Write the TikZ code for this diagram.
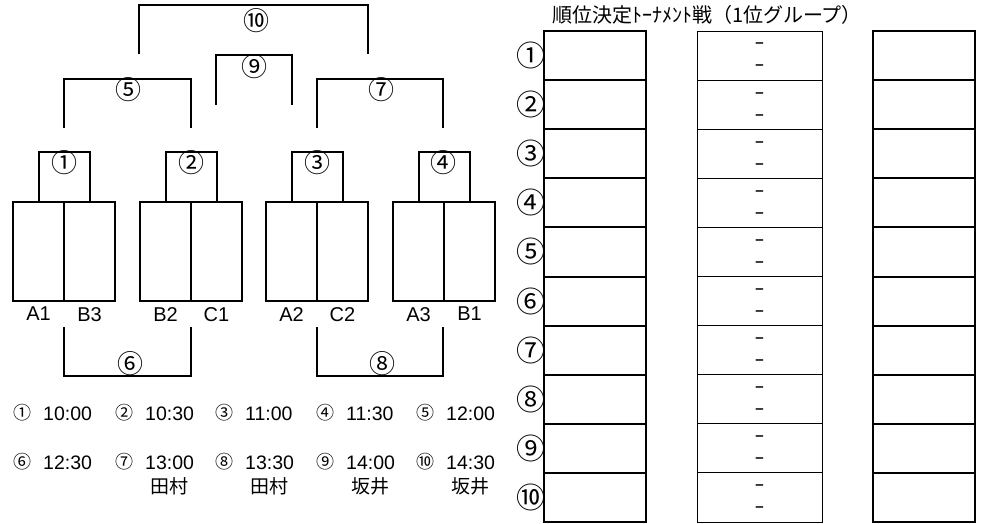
\documentclass[tikz,border=0pt]{standalone}
\usepackage{fontspec}
\setmainfont{Liberation Sans}
\newfontfamily\jp{Noto Sans CJK JP}
\usetikzlibrary{positioning}
\newcommand{\fsz}[1]{\fontsize{#1}{#1}\selectfont}
\begin{document}
\begin{tikzpicture}
      [x=1pt,y=-1pt,every node/.style={inner sep=0pt},
       bracket/.style={line width=2pt},
       cell/.style={draw, line width=2pt, minimum width=51pt, minimum height=99pt},
       box/.style={draw, line width=2pt, minimum width=102pt, minimum height=49.1pt},
       thinbox/.style={draw, line width=0.9pt, minimum width=125pt, minimum height=49.1pt},
       num/.style={font=\jp\fsz{26}},
       team/.style={font=\fsz{20}},
       dashmark/.style={font=\bfseries\fsz{15}}]
    \useasboundingbox (0,0) rectangle (984,524);

    \foreach \n/\x in {A1/38.5, B3/89.5, B2/165.5, C1/216.5, A2/291.5, C2/342.5, A3/418.5, B1/469.5} {
      \node[cell] (t\n) at (\x,251.5) {};
      \node[team, below=5pt of t\n] (l\n) {\n};
    }

    \foreach \i/\from/\to in {1/A1/B3, 2/B2/C1, 3/A2/C2, 4/A3/B1}
      \draw[bracket] (t\from.north) -- ++(0,-49) -| (t\to.north);

    \foreach \i/\xa/\xb/\y/\h in {5/64/191/128/-49, 7/317/443/128/-49, 9/216/292/105/-50,
                                 10/139/368/54/-49, 6/64/191/327/49, 8/317/443/327/49} {
      \coordinate (k\i-a) at (\xa,\y);
      \coordinate (k\i-b) at (\xb,\y);
      \draw[bracket] (k\i-a) -- ++(0,\h) -| (k\i-b);
    }

    \foreach \i/\c/\x/\y in {1/①/64/163, 2/②/191/163, 3/③/317/163, 4/④/443/163, 5/⑤/128/90,
                             7/⑦/381/90, 9/⑨/254/67, 10/⑩/256/21, 6/⑥/130/364, 8/⑧/382/364}
      \node[num] (g\i) at (\x,\y) {\c};

    \foreach \i/\c/\x/\y/\t in {1/①/22/413/10:00, 2/②/124/413/10:30, 3/③/224/413/11:00,
                                4/④/325/413/11:30, 5/⑤/425/413/12:00, 6/⑥/22/462/12:30,
                                7/⑦/124/462/13:00, 8/⑧/224/462/13:30, 9/⑨/325/462/14:00,
                                10/⑩/425/462/14:30} {
      \node[font=\jp\fsz{18}] (s\i) at (\x,\y) {\c};
      \node[anchor=base west, font=\fsz{19.5}] (h\i) at ({\x+21},{\y+7}) {\t};
    }
    \foreach \i/\w in {7/田村, 8/田村, 9/坂井, 10/坂井}
      \node[font=\jp\fsz{19}, below=8pt of h\i] (w\i) {\w};

    \node[font=\jp\fsz{20}] (title) at (707,15) {順位決定ﾄｰﾅﾒﾝﾄ戦（1位グループ）};

    \foreach \i/\c in {1/①,2/②,3/③,4/④,5/⑤,6/⑥,7/⑦,8/⑧,9/⑨,10/⑩} {
      \node[box] (a\i) at (595,{31+49.1*(\i-0.5)}) {};
      \node[thinbox] (b\i) at (759.5,{31+49.1*(\i-0.5)}) {};
      \node[box] (c\i) at (924,{31+49.1*(\i-0.5)}) {};
      \node[font=\jp\fsz{29}, left=-3pt of a\i] (r\i) {\c};
      \node[dashmark] (b\i-t) at ([yshift=10pt]b\i.center) {–};
      \node[dashmark] (b\i-b) at ([yshift=-12pt]b\i.center) {–};
    }
\end{tikzpicture}
\end{document}
